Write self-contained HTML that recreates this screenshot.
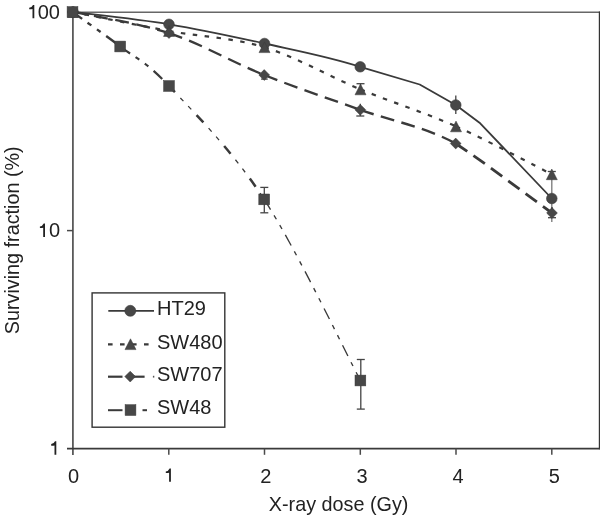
<!DOCTYPE html>
<html><head><meta charset="utf-8"><style>
html,body{margin:0;padding:0;background:#fff;}
svg{display:block;will-change:transform;}
text{font-family:"Liberation Sans",sans-serif;font-size:20px;fill:#222;}
</style></head><body>
<svg width="600" height="515" viewBox="0 0 600 515">
<rect width="600" height="515" fill="#fff"/>
<line x1="73" y1="12.2" x2="600" y2="12.2" stroke="#676767" stroke-width="1.6"/>
<line x1="599.4" y1="11.5" x2="599.4" y2="449.3" stroke="#333" stroke-width="1.2"/>
<line x1="72.9" y1="11.5" x2="72.9" y2="455" stroke="#5a5a5a" stroke-width="1.8"/>
<line x1="67" y1="448.6" x2="600" y2="448.6" stroke="#3a3a3a" stroke-width="1.6"/>
<line x1="67" y1="12.2" x2="73" y2="12.2" stroke="#4a4a4a" stroke-width="1.5"/>
<line x1="67" y1="230.6" x2="73" y2="230.6" stroke="#4a4a4a" stroke-width="1.5"/>
<line x1="168.8" y1="448.6" x2="168.8" y2="454.8" stroke="#4a4a4a" stroke-width="1.5"/>
<line x1="264.5" y1="448.6" x2="264.5" y2="454.8" stroke="#4a4a4a" stroke-width="1.5"/>
<line x1="360.3" y1="448.6" x2="360.3" y2="454.8" stroke="#4a4a4a" stroke-width="1.5"/>
<line x1="456.0" y1="448.6" x2="456.0" y2="454.8" stroke="#4a4a4a" stroke-width="1.5"/>
<line x1="551.8" y1="448.6" x2="551.8" y2="454.8" stroke="#4a4a4a" stroke-width="1.5"/>
<path d="M73.00,12.00 C89.00,14.05 137.08,19.05 169.00,24.30 M169.00,24.30 C200.92,29.55 232.63,36.42 264.50,43.50 M264.50,43.50 C296.37,50.58 328.32,56.55 360.20,66.80 M360.20,66.80 L419.70,84.50 L455.80,105.00 M455.80,105.00 L480.20,123.30 L551.80,198.50" fill="none" stroke="#3a3a3a" stroke-width="1.8" stroke-linejoin="round"/>
<path d="M73.00,12.00 C89.00,15.17 137.08,25.12 169.00,31.00" fill="none" stroke="#3a3a3a" stroke-width="2.2" stroke-dasharray="4.5 7.5"/>
<path d="M169.00,31.00 C200.92,36.88 232.58,37.57 264.50,47.30" fill="none" stroke="#3a3a3a" stroke-width="2.2" stroke-dasharray="4.5 7.5"/>
<path d="M264.50,47.30 C296.42,57.03 328.58,76.22 360.50,89.40" fill="none" stroke="#3a3a3a" stroke-width="2.2" stroke-dasharray="4.5 7.5"/>
<path d="M360.50,89.40 C392.42,102.58 424.12,112.25 456.00,126.40" fill="none" stroke="#3a3a3a" stroke-width="2.2" stroke-dasharray="4.5 7.5"/>
<path d="M456.00,126.40 C487.88,140.55 535.83,166.32 551.80,174.30" fill="none" stroke="#3a3a3a" stroke-width="2.2" stroke-dasharray="4.5 7.5"/>
<path d="M73.00,12.00 C89.00,15.52 137.13,22.60 169.00,33.10" fill="none" stroke="#3a3a3a" stroke-width="2.3" stroke-dasharray="14 7.5"/>
<path d="M169.00,33.10 C200.87,43.60 232.32,62.22 264.20,75.00" fill="none" stroke="#3a3a3a" stroke-width="2.3" stroke-dasharray="14 7.5"/>
<path d="M264.20,75.00 C296.08,87.78 328.38,98.38 360.30,109.80" fill="none" stroke="#3a3a3a" stroke-width="2.3" stroke-dasharray="14 7.5"/>
<path d="M360.30,109.80 C392.22,121.22 423.75,126.30 455.70,143.50" fill="none" stroke="#3a3a3a" stroke-width="2.4" stroke-dasharray="14 7.5"/>
<path d="M455.70,143.50 L479.50,159.80 L552.00,213.00" fill="none" stroke="#3a3a3a" stroke-width="2.8" stroke-dasharray="14 7.5"/>
<path d="M72.50,12.00 C80.45,17.75 104.12,34.17 120.20,46.50" fill="none" stroke="#3a3a3a" stroke-width="2.4" stroke-dasharray="12 6.8 4.5 6.8 4.5 6.8"/>
<path d="M120.20,46.50 C136.28,58.83 145.00,60.52 169.00,86.00" fill="none" stroke="#3a3a3a" stroke-width="2.2" stroke-dasharray="12 6.8 4.5 6.8 4.5 6.8"/>
<path d="M169.00,86.00 C193.00,111.48 232.30,150.32 264.20,199.40" fill="none" stroke="#3a3a3a" stroke-width="2.5" stroke-dasharray="10 31.4" stroke-dashoffset="1.2"/>
<path d="M169.00,86.00 C193.00,111.48 232.30,150.32 264.20,199.40" fill="none" stroke="#3a3a3a" stroke-width="1.3" stroke-dasharray="0 18.8 4.5 6.8 4.5 6.8" stroke-dashoffset="2.2"/>
<path d="M264.20,199.40 C296.10,248.48 344.37,350.32 360.40,380.50" fill="none" stroke="#3a3a3a" stroke-width="1.35" stroke-dasharray="12 6.8 4.5 6.8 4.5 6.8"/>
<line x1="264.3" y1="187.4" x2="264.3" y2="212.8" stroke="#444" stroke-width="1.3"/><line x1="260.3" y1="187.4" x2="268.3" y2="187.4" stroke="#444" stroke-width="1.3"/><line x1="260.3" y1="212.8" x2="268.3" y2="212.8" stroke="#444" stroke-width="1.3"/>
<line x1="264.4" y1="72" x2="264.4" y2="79.1" stroke="#444" stroke-width="1.3"/><line x1="261.09999999999997" y1="79.1" x2="267.7" y2="79.1" stroke="#444" stroke-width="1.3"/>
<line x1="360.8" y1="359.5" x2="360.8" y2="409.1" stroke="#444" stroke-width="1.3"/><line x1="356.8" y1="359.5" x2="364.8" y2="359.5" stroke="#444" stroke-width="1.3"/><line x1="356.8" y1="409.1" x2="364.8" y2="409.1" stroke="#444" stroke-width="1.3"/>
<line x1="360.5" y1="83.7" x2="360.5" y2="92" stroke="#444" stroke-width="1.3"/><line x1="356.5" y1="83.7" x2="364.5" y2="83.7" stroke="#444" stroke-width="1.3"/>
<line x1="360.3" y1="103.8" x2="360.3" y2="116" stroke="#444" stroke-width="1.3"/><line x1="356.3" y1="116" x2="364.3" y2="116" stroke="#444" stroke-width="1.3"/>
<line x1="455.8" y1="95.6" x2="455.8" y2="113.9" stroke="#444" stroke-width="1.3"/>
<line x1="551.8" y1="176" x2="551.8" y2="222" stroke="#777" stroke-width="1.3"/>
<line x1="552" y1="207" x2="552" y2="217.7" stroke="#444" stroke-width="1.3"/><line x1="548.0" y1="217.7" x2="556.0" y2="217.7" stroke="#444" stroke-width="1.3"/>
<line x1="551.8" y1="171.5" x2="551.8" y2="176" stroke="#444" stroke-width="1.3"/><line x1="547.8" y1="171.5" x2="555.8" y2="171.5" stroke="#444" stroke-width="1.3"/>
<circle cx="73" cy="12" r="5.3" fill="#474747" stroke="#3a3a3a" stroke-width="0.6"/>
<circle cx="169" cy="24.3" r="5.3" fill="#474747" stroke="#3a3a3a" stroke-width="0.6"/>
<circle cx="264.5" cy="43.5" r="5.3" fill="#474747" stroke="#3a3a3a" stroke-width="0.6"/>
<circle cx="360.2" cy="66.8" r="5.3" fill="#474747" stroke="#3a3a3a" stroke-width="0.6"/>
<circle cx="455.8" cy="105" r="5.3" fill="#474747" stroke="#3a3a3a" stroke-width="0.6"/>
<circle cx="551.8" cy="198.5" r="5.3" fill="#474747" stroke="#3a3a3a" stroke-width="0.6"/>
<polygon points="73.0,6.7 67.5,17.4 78.5,17.4" fill="#474747" stroke="#3a3a3a" stroke-width="0.5"/>
<polygon points="169.0,25.6 163.5,36.4 174.5,36.4" fill="#474747" stroke="#3a3a3a" stroke-width="0.5"/>
<polygon points="264.5,41.9 259.0,52.6 270.0,52.6" fill="#474747" stroke="#3a3a3a" stroke-width="0.5"/>
<polygon points="360.5,84.1 355.0,94.8 366.0,94.8" fill="#474747" stroke="#3a3a3a" stroke-width="0.5"/>
<polygon points="456.0,121.1 450.5,131.8 461.5,131.8" fill="#474747" stroke="#3a3a3a" stroke-width="0.5"/>
<polygon points="551.8,169.0 546.3,179.7 557.3,179.7" fill="#474747" stroke="#3a3a3a" stroke-width="0.5"/>
<polygon points="73.0,6.6 78.4,12.0 73.0,17.4 67.6,12.0" fill="#474747" stroke="#3a3a3a" stroke-width="0.5"/>
<polygon points="169.0,27.7 174.4,33.1 169.0,38.5 163.6,33.1" fill="#474747" stroke="#3a3a3a" stroke-width="0.5"/>
<polygon points="264.2,69.6 269.6,75.0 264.2,80.4 258.8,75.0" fill="#474747" stroke="#3a3a3a" stroke-width="0.5"/>
<polygon points="360.3,104.4 365.7,109.8 360.3,115.2 354.9,109.8" fill="#474747" stroke="#3a3a3a" stroke-width="0.5"/>
<polygon points="455.7,138.1 461.1,143.5 455.7,148.9 450.3,143.5" fill="#474747" stroke="#3a3a3a" stroke-width="0.5"/>
<polygon points="552.0,207.6 557.4,213.0 552.0,218.4 546.6,213.0" fill="#474747" stroke="#3a3a3a" stroke-width="0.5"/>
<rect x="67.1" y="6.6" width="10.8" height="10.8" fill="#474747" stroke="#3a3a3a" stroke-width="0.5"/>
<rect x="114.8" y="41.1" width="10.8" height="10.8" fill="#474747" stroke="#3a3a3a" stroke-width="0.5"/>
<rect x="163.6" y="80.6" width="10.8" height="10.8" fill="#474747" stroke="#3a3a3a" stroke-width="0.5"/>
<rect x="258.8" y="194.0" width="10.8" height="10.8" fill="#474747" stroke="#3a3a3a" stroke-width="0.5"/>
<rect x="355.0" y="375.1" width="10.8" height="10.8" fill="#474747" stroke="#3a3a3a" stroke-width="0.5"/>
<rect x="92.1" y="292.9" width="132.7" height="134.3" fill="none" stroke="#333" stroke-width="1.4"/>
<line x1="108.3" y1="310.8" x2="154" y2="310.8" stroke="#3a3a3a" stroke-width="1.7"/><circle cx="130.3" cy="310.8" r="5.5" fill="#474747" stroke="#3a3a3a" stroke-width="0.6"/>
<line x1="108" y1="344.3" x2="154.5" y2="344.3" stroke="#3a3a3a" stroke-width="2.2" stroke-dasharray="4.6 7.4"/><polygon points="130.5,338.8 125.0,349.6 136.0,349.6" fill="#474747" stroke="#3a3a3a" stroke-width="0.5"/>
<line x1="108" y1="376.7" x2="122.5" y2="376.7" stroke="#3a3a3a" stroke-width="2.2"/><line x1="129.5" y1="376.7" x2="144.6" y2="376.7" stroke="#3a3a3a" stroke-width="2.2"/><line x1="152.9" y1="376.7" x2="154.3" y2="376.7" stroke="#555" stroke-width="1.8"/><polygon points="130.2,371.2 135.6,376.6 130.2,382.0 124.8,376.6" fill="#474747" stroke="#3a3a3a" stroke-width="0.5"/>
<line x1="108" y1="410.2" x2="122.5" y2="410.2" stroke="#3a3a3a" stroke-width="2.0"/><line x1="142.5" y1="410.2" x2="147" y2="410.2" stroke="#3a3a3a" stroke-width="2.0"/><rect x="125.1" y="404.7" width="10.8" height="10.8" fill="#474747" stroke="#3a3a3a" stroke-width="0.5"/>
<text x="157" y="315.2" text-anchor="start" >HT29</text>
<text x="157" y="349" text-anchor="start" >SW480</text>
<text x="157" y="381.1" text-anchor="start" >SW707</text>
<text x="157" y="414.3" text-anchor="start" >SW48</text>
<text x="60" y="18.6" text-anchor="end" >00</text>
<path d="M34.30,4.90 L34.30,18.20 L32.50,18.20 L32.50,9.00 Q31.60,9.20 29.20,9.30 L29.20,7.70 Q31.90,7.50 33.00,4.90 Z" fill="#222"/>
<text x="60" y="237.2" text-anchor="end" >0</text>
<path d="M45.00,223.60 L45.00,236.90 L43.20,236.90 L43.20,227.70 Q42.30,227.90 39.90,228.00 L39.90,226.40 Q42.60,226.20 43.70,223.60 Z" fill="#222"/>
<path d="M56.30,441.30 L56.30,454.80 L54.50,454.80 L54.50,445.40 Q53.60,445.60 51.20,445.70 L51.20,444.10 Q53.90,443.90 55.00,441.30 Z" fill="#222"/>
<text x="73.5" y="482.6" text-anchor="middle" >0</text>
<path d="M170.90,468.60 L170.90,481.80 L169.10,481.80 L169.10,472.70 Q168.20,472.90 165.80,473.00 L165.80,471.40 Q168.50,471.20 169.60,468.60 Z" fill="#222"/>
<text x="265.8" y="482.6" text-anchor="middle" >2</text>
<text x="362.0" y="482.6" text-anchor="middle" >3</text>
<text x="458.1" y="482.6" text-anchor="middle" >4</text>
<text x="554.3" y="482.6" text-anchor="middle" >5</text>
<text x="338.6" y="510.8" text-anchor="middle" style="font-size:19.8px">X-ray dose (Gy)</text>
<text x="0" y="0" text-anchor="middle" style="font-size:19.8px" transform="translate(19.2,240.3) rotate(-90)">Surviving fraction (%)</text>
</svg>
</body></html>
